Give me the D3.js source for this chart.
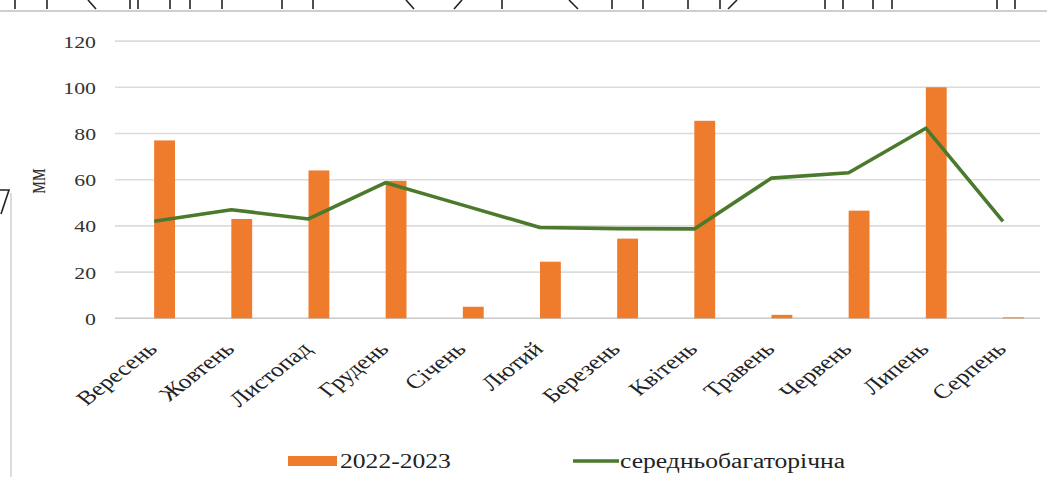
<!DOCTYPE html>
<html>
<head>
<meta charset="utf-8">
<script src="https://cdn.jsdelivr.net/npm/d3@7"></script>
<style>
  body { margin: 0; background: #fff; }
  svg { display: block; }
</style>
</head>
<body>
<div id="chart"></div>
<script>
// ---- data ----------------------------------------------------------------
const months = ["Вересень", "Жовтень", "Листопад", "Грудень", "Січень", "Лютий",
  "Березень", "Квітень", "Травень", "Червень", "Липень", "Серпень"];
const rain2223 = [77, 43, 64, 59.5, 5, 24.5, 34.5, 85.5, 1.5, 46.6, 100, 0.4];
const longTerm = [42, 47, 43, 58.7, 49, 39.3, 38.8, 38.7, 60.7, 63, 82.3, 42];
const yTicks = [0, 20, 40, 60, 80, 100, 120];
const seriesNames = ["2022-2023", "середньобагаторічна"];
const yTitle = "мм";

// scan artefacts of the previous figure along the top edge
const topTicks = [15, 47, 130, 138, 170, 190, 222, 282, 313, 502, 612, 643, 688, 720, 825, 843, 873, 892, 997, 1015];
const topSlants = [[88, 96], [406, 414], [462, 454], [569, 578], [737, 728]];

(function () {
  const W = 1047, H = 477;
  const SX = 1.28; // the scan is stretched sideways, so is the text
  const FONT = "'Liberation Serif', 'Times New Roman', serif";
  const COL = { bar: "#ef7b2d", line: "#4b7a2c", grid: "#dcdcdc", base: "#c9c9c9", text: "#333" };

  const svg = d3.select("#chart").append("svg")
    .attr("width", W).attr("height", H)
    .attr("viewBox", `0 0 ${W} ${H}`);
  svg.append("rect").attr("width", W).attr("height", H).attr("fill", "#fff");

  // ---- artefacts -----------------------------------------------------------
  const art = svg.append("g");
  art.append("line").attr("x1", 0).attr("x2", W).attr("y1", 11).attr("y2", 11)
    .attr("stroke", "#cfcfcf").attr("stroke-width", 2);
  art.selectAll("line.tk").data(topTicks).join("line").attr("class", "tk")
    .attr("x1", (d) => d).attr("x2", (d) => d).attr("y1", 0).attr("y2", 9)
    .attr("stroke", "#222").attr("stroke-width", 1.6);
  art.selectAll("line.sl").data(topSlants).join("line").attr("class", "sl")
    .attr("x1", (d) => d[0]).attr("x2", (d) => d[1]).attr("y1", 0).attr("y2", 9)
    .attr("stroke", "#222").attr("stroke-width", 1.6);
  art.append("line").attr("x1", 11).attr("x2", 11).attr("y1", 193).attr("y2", H)
    .attr("stroke", "#cfcfcf").attr("stroke-width", 1.5);
  art.append("path").attr("d", "M0,190 L9,190 L1,214")
    .attr("fill", "none").attr("stroke", "#222").attr("stroke-width", 1.6);

  // ---- scales --------------------------------------------------------------
  const x = d3.scaleBand().domain(months).range([126, 1052]);
  const y = d3.scaleLinear().domain([0, 120]).range([318.3, 41.1]);
  const barW = x.bandwidth() * 0.27;
  const cx = (m) => x(m) + x.bandwidth() / 2;

  // gridlines
  svg.append("g").selectAll("line").data(yTicks).join("line")
    .attr("x1", 115).attr("x2", 1040)
    .attr("y1", (d) => y(d)).attr("y2", (d) => y(d))
    .attr("stroke", (d) => (d === 0 ? COL.base : COL.grid))
    .attr("stroke-width", 1.6);

  // y axis labels
  const yAxis = svg.append("g").attr("transform", "translate(96,0)")
    .call(d3.axisLeft(y).tickValues(yTicks).tickSize(0).tickPadding(0));
  yAxis.select(".domain").remove();
  yAxis.selectAll("text")
    .attr("x", null).attr("dy", null)
    .attr("transform", `translate(0,6) scale(${SX},1)`)
    .attr("fill", COL.text)
    .style("font", `17px ${FONT}`);

  svg.append("text")
    .attr("transform", `translate(45,181) scale(${SX},1) rotate(-90)`)
    .attr("text-anchor", "middle")
    .attr("fill", COL.text)
    .style("font", `20px ${FONT}`)
    .text(yTitle);

  // x axis labels
  const xAxis = svg.append("g").attr("transform", `translate(0,${y(0)})`)
    .call(d3.axisBottom(x).tickSize(0).tickPadding(0));
  xAxis.select(".domain").remove();
  xAxis.selectAll("text")
    .attr("y", null).attr("dy", null)
    .attr("text-anchor", "end")
    .attr("transform", `translate(-6,32) scale(${SX},1) rotate(-45)`)
    .attr("fill", "#222")
    .style("font", `20px ${FONT}`);

  // bars
  svg.append("g").selectAll("rect").data(rain2223).join("rect")
    .attr("x", (d, i) => cx(months[i]) - barW / 2)
    .attr("y", (d) => y(d))
    .attr("width", barW)
    .attr("height", (d) => y(0) - y(d))
    .attr("fill", COL.bar);

  // long-term line (its vertices sit at the bars' left edges in the scan)
  const line = d3.line()
    .x((d, i) => cx(months[i]) - barW / 2)
    .y((d) => y(d));
  svg.append("path").datum(longTerm)
    .attr("d", line)
    .attr("fill", "none")
    .attr("stroke", COL.line)
    .attr("stroke-width", 3.6)
    .attr("stroke-linejoin", "round");

  // ---- legend --------------------------------------------------------------
  const LY = 461;
  const leg = svg.append("g").style("font", `20px ${FONT}`).attr("fill", "#222");
  leg.append("rect").attr("x", 288).attr("y", LY - 5).attr("width", 49).attr("height", 10)
    .attr("fill", COL.bar);
  leg.append("text").attr("transform", `translate(340,${LY + 7}) scale(${SX},1)`)
    .text(seriesNames[0]);
  leg.append("line").attr("x1", 573).attr("x2", 619).attr("y1", LY).attr("y2", LY)
    .attr("stroke", COL.line).attr("stroke-width", 3.6);
  leg.append("text").attr("transform", `translate(620,${LY + 7}) scale(${SX},1)`)
    .text(seriesNames[1]);
})();
</script>
</body>
</html>
